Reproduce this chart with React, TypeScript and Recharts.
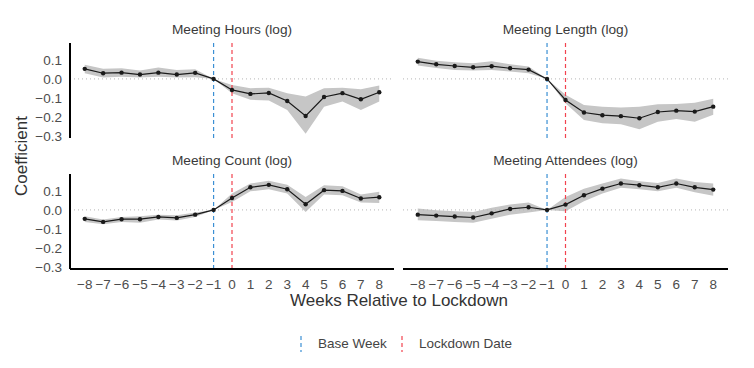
import React from 'react';
import { ComposedChart, Area, Line, XAxis, YAxis, ReferenceLine } from 'recharts';

const weeks = [-8, -7, -6, -5, -4, -3, -2, -1, 0, 1, 2, 3, 4, 5, 6, 7, 8];
const xTicks = weeks;
const yTicks = [-0.3, -0.2, -0.1, 0, 0.1];

const hoursCoef = [0.053, 0.030, 0.033, 0.023, 0.033, 0.023, 0.032, 0, -0.058, -0.079, -0.074, -0.116, -0.195, -0.095, -0.075, -0.107, -0.070];
const hoursHi = [0.074, 0.053, 0.056, 0.044, 0.060, 0.047, 0.051, 0, -0.032, -0.049, -0.046, -0.075, -0.093, -0.049, -0.046, -0.054, -0.035];
const hoursLo = [0.030, 0.007, 0.012, 0.007, 0.012, 0.007, 0.009, 0, -0.075, -0.110, -0.114, -0.163, -0.289, -0.146, -0.119, -0.163, -0.119];

const lengthCoef = [0.091, 0.077, 0.068, 0.061, 0.067, 0.056, 0.049, 0, -0.111, -0.177, -0.191, -0.196, -0.207, -0.174, -0.167, -0.172, -0.146];
const lengthHi = [0.112, 0.096, 0.088, 0.082, 0.093, 0.077, 0.065, 0, -0.084, -0.137, -0.146, -0.151, -0.146, -0.133, -0.132, -0.126, -0.104];
const lengthLo = [0.070, 0.058, 0.047, 0.044, 0.047, 0.039, 0.030, 0, -0.128, -0.216, -0.233, -0.239, -0.265, -0.225, -0.211, -0.225, -0.189];

const countCoef = [-0.047, -0.063, -0.049, -0.049, -0.037, -0.042, -0.025, 0, 0.063, 0.119, 0.132, 0.109, 0.030, 0.104, 0.100, 0.060, 0.067];
const countHi = [-0.033, -0.051, -0.037, -0.033, -0.025, -0.028, -0.014, 0, 0.086, 0.139, 0.153, 0.133, 0.068, 0.130, 0.125, 0.081, 0.095];
const countLo = [-0.063, -0.075, -0.063, -0.067, -0.051, -0.056, -0.037, 0, 0.042, 0.098, 0.109, 0.086, -0.011, 0.081, 0.077, 0.039, 0.037];

const attCoef = [-0.025, -0.030, -0.035, -0.040, -0.018, 0.005, 0.014, 0, 0.028, 0.077, 0.112, 0.139, 0.130, 0.119, 0.139, 0.119, 0.107];
const attHi = [0.007, -0.002, -0.007, -0.011, 0.012, 0.028, 0.039, 0, 0.068, 0.112, 0.139, 0.165, 0.151, 0.142, 0.165, 0.147, 0.139];
const attLo = [-0.054, -0.058, -0.063, -0.067, -0.046, -0.025, -0.014, 0, -0.007, 0.046, 0.086, 0.116, 0.109, 0.098, 0.116, 0.093, 0.074];

const build = (coef: number[], lo: number[], hi: number[]) =>
  weeks.map((w, i) => ({ week: w, coef: coef[i], band: [lo[i], hi[i]] }));

const FONT = '"Liberation Sans", Arial, Helvetica, sans-serif';
const BLUE = '#3b8fd4';
const RED = '#f2434f';

const minusFmt = (digits: number) => (v: number) =>
  v < 0 ? '\u2212' + Math.abs(v).toFixed(digits) : v.toFixed(digits);

type PanelProps = {
  data: { week: number; coef: number; band: number[] }[];
  left: number;
  top: number;
  showY: boolean;
  showX: boolean;
  title: string;
};

const Panel = ({ data, left, top, showY, showX, title }: PanelProps) => {
  const width = showY ? 400 : 354;
  const height = 150;
  const margin = {
    top: showX ? 24 : 43,
    right: showY ? 6 : 26,
    left: showY ? 0 : 3,
    bottom: showX ? 1 : 12,
  };
  const plotLeft = left + (showY ? 70 : 3);
  const plotRight = left + width - margin.right;
  return (
    <>
      <div
        style={{
          position: 'absolute',
          left: plotLeft,
          width: plotRight - plotLeft,
          top: top + margin.top - 21,
          textAlign: 'center',
          fontFamily: FONT,
          fontSize: 13.7,
          color: '#3a3a3a',
          lineHeight: '16px',
        }}
      >
        {title}
      </div>
      <div style={{ position: 'absolute', left, top }}>
        <ComposedChart width={width} height={height} data={data} margin={margin}>
          <XAxis
            dataKey="week"
            type="number"
            domain={[-8.8, 8.8]}
            ticks={xTicks}
            hide={!showX}
            height={30}
            axisLine={{ stroke: '#000', strokeWidth: 2 }}
            tickLine={false}
            tickSize={6}
            tickMargin={4}
            interval={0}
            tickFormatter={minusFmt(0)}
            tick={{ fill: '#4d4d4d', fontSize: 13.5, fontFamily: FONT }}
          />
          <YAxis
            type="number"
            domain={[-0.311, 0.189]}
            ticks={yTicks}
            hide={!showY}
            width={70}
            axisLine={{ stroke: '#000', strokeWidth: 2 }}
            tickLine={false}
            tickSize={6}
            tickMargin={2}
            interval={0}
            tickFormatter={minusFmt(1)}
            tick={{ fill: '#4d4d4d', fontSize: 13.5, fontFamily: FONT }}
          />
          <ReferenceLine y={0} stroke="#b5b5b5" strokeDasharray="1 3" strokeWidth={1} />
          <Area
            dataKey="band"
            type="linear"
            fill="#c6c6c6"
            fillOpacity={1}
            stroke="none"
            isAnimationActive={false}
            activeDot={false}
          />
          <Line
            dataKey="coef"
            type="linear"
            stroke="#1a1a1a"
            strokeWidth={1.2}
            dot={{ r: 2.2, fill: '#1a1a1a', stroke: 'none' }}
            activeDot={false}
            isAnimationActive={false}
          />
          <ReferenceLine x={-1} stroke={BLUE} strokeDasharray="4 3" strokeWidth={1.2} />
          <ReferenceLine x={0} stroke={RED} strokeDasharray="4 3" strokeWidth={1.2} />
        </ComposedChart>
      </div>
    </>
  );
};

export default function App() {
  return (
    <div style={{ position: 'absolute', left: 0, top: 0, width: 754, height: 368, background: '#fff', overflow: 'hidden' }}>
      <Panel data={build(hoursCoef, hoursLo, hoursHi)} left={0} top={0} showY showX={false} title="Meeting Hours (log)" />
      <Panel data={build(lengthCoef, lengthLo, lengthHi)} left={400} top={0} showY={false} showX={false} title="Meeting Length (log)" />
      <Panel data={build(countCoef, countLo, countHi)} left={0} top={150} showY showX title="Meeting Count (log)" />
      <Panel data={build(attCoef, attLo, attHi)} left={400} top={150} showY={false} showX title="Meeting Attendees (log)" />

      <div
        style={{
          position: 'absolute',
          left: 70,
          width: 658,
          top: 291,
          textAlign: 'center',
          fontFamily: FONT,
          fontSize: 17,
          color: '#333',
          lineHeight: '20px',
        }}
      >
        Weeks Relative to Lockdown
      </div>
      <div
        style={{
          position: 'absolute',
          left: 22 - 60,
          width: 120,
          top: 156 - 10,
          textAlign: 'center',
          fontFamily: FONT,
          fontSize: 17,
          color: '#333',
          lineHeight: '20px',
          transform: 'rotate(-90deg)',
        }}
      >
        Coefficient
      </div>

      <div style={{ position: 'absolute', left: 296, top: 335 }}>
        <svg width={10} height={18}>
          <line x1={5} x2={5} y1={1} y2={17} stroke={BLUE} strokeWidth={1.2} strokeDasharray="4 3" />
        </svg>
      </div>
      <div style={{ position: 'absolute', left: 318, top: 336, fontFamily: FONT, fontSize: 13.5, color: '#444', lineHeight: '16px' }}>
        Base Week
      </div>
      <div style={{ position: 'absolute', left: 397, top: 335 }}>
        <svg width={10} height={18}>
          <line x1={5} x2={5} y1={1} y2={17} stroke={RED} strokeWidth={1.2} strokeDasharray="4 3" />
        </svg>
      </div>
      <div style={{ position: 'absolute', left: 419, top: 336, fontFamily: FONT, fontSize: 13.5, color: '#444', lineHeight: '16px' }}>
        Lockdown Date
      </div>
    </div>
  );
}
